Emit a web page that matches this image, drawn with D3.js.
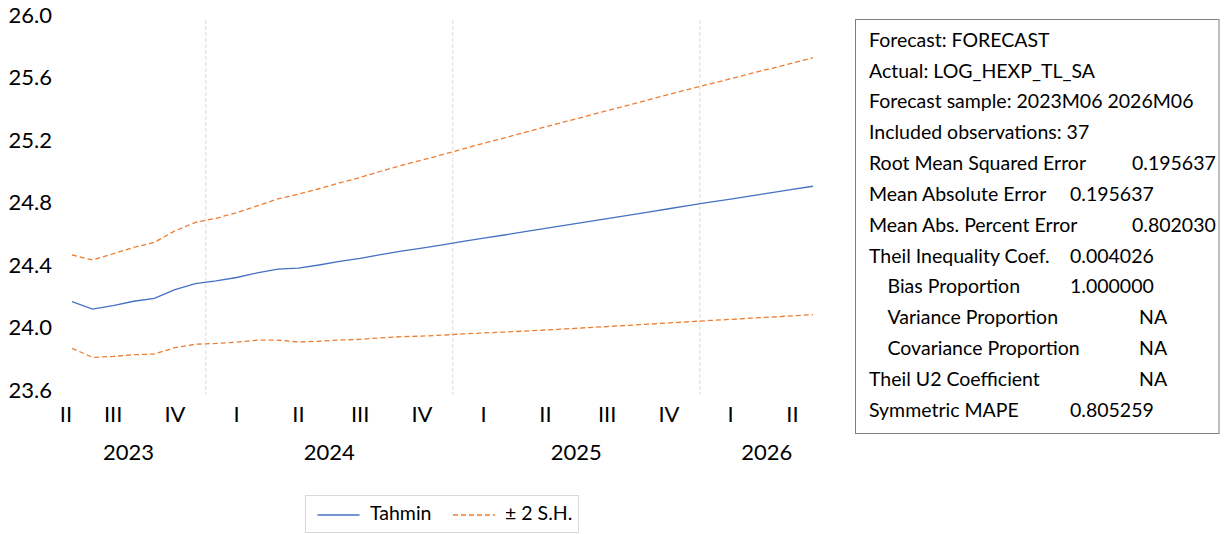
<!DOCTYPE html>
<html>
<head>
<meta charset="utf-8">
<script src="https://cdn.jsdelivr.net/npm/d3@7"></script>
<style>
  html, body { margin: 0; padding: 0; background: #fff; }
  svg { display: block; font-family: Lato, "Noto Sans", sans-serif; }
</style>
</head>
<body>
<svg id="chart" width="1228" height="534"></svg>
<script>
// Monthly forecast sample 2023M06 .. 2026M06 (37 observations)
const startYear = 2023, startMonth = 6, nObs = 37;
const periods = d3.range(nObs).map(i => {
  const m = startMonth - 1 + i;
  return `${startYear + Math.floor(m / 12)}M${String(m % 12 + 1).padStart(2, "0")}`;
});

// Point forecast (log level)
const forecast = [
  24.197, 24.150, 24.172, 24.200, 24.218, 24.275, 24.313, 24.330, 24.352, 24.382,
  24.405, 24.412, 24.432, 24.455, 24.474, 24.499, 24.521, 24.540, 24.561, 24.583,
  24.604, 24.624, 24.645, 24.666, 24.687, 24.708, 24.729, 24.750, 24.771, 24.792,
  24.813, 24.834, 24.854, 24.875, 24.895, 24.916, 24.936
];
// Upper band: forecast + 2 S.E.
const upperBand = [
  24.496, 24.464, 24.504, 24.545, 24.577, 24.650, 24.705, 24.731, 24.767, 24.810,
  24.855, 24.885, 24.920, 24.958, 24.992, 25.032, 25.069, 25.103, 25.139, 25.175,
  25.211, 25.245, 25.281, 25.316, 25.351, 25.385, 25.420, 25.454, 25.489, 25.523,
  25.557, 25.591, 25.624, 25.658, 25.691, 25.725, 25.758
];
// Lower band: forecast - 2 S.E.
const lowerBand = [
  23.899, 23.841, 23.847, 23.858, 23.862, 23.903, 23.925, 23.930, 23.938, 23.951,
  23.951, 23.939, 23.944, 23.952, 23.956, 23.966, 23.973, 23.977, 23.983, 23.991,
  23.997, 24.003, 24.009, 24.016, 24.023, 24.031, 24.038, 24.046, 24.053, 24.061,
  24.069, 24.077, 24.084, 24.092, 24.099, 24.107, 24.114
];

// Axis tick labels
const yTicks = [23.6, 24.0, 24.4, 24.8, 25.2, 25.6, 26.0];
const quarterLabels = ["II", "III", "IV", "I", "II", "III", "IV", "I", "II", "III", "IV", "I", "II"];
const quarterMidMonths = [-1, 2, 5, 8, 11, 14, 17, 20, 23, 26, 29, 32, 35]; // offset from 2023M06
const yearLabels = ["2023", "2024", "2025", "2026"];
const yearStarts = [-1, 6.5, 18.5, 30.5];
const yearEnds = [6.5, 18.5, 30.5, 37];

// Evaluation statistics
const statLabels = [
  "Forecast: FORECAST",
  "Actual: LOG_HEXP_TL_SA",
  "Forecast sample: 2023M06 2026M06",
  "Included observations: 37",
  "Root Mean Squared Error",
  "Mean Absolute Error",
  "Mean Abs. Percent Error",
  "Theil Inequality Coef.",
  "Bias Proportion",
  "Variance Proportion",
  "Covariance Proportion",
  "Theil U2 Coefficient",
  "Symmetric MAPE"
];
const statValues = ["", "", "", "", "0.195637", "0.195637", "0.802030", "0.004026",
                    "1.000000", "NA", "NA", "NA", "0.805259"];

const legendLabels = ["Tahmin", "\u00b1 2 S.H."];

// ---------------------------------------------------------------------------
const svg = d3.select("#chart");
const blue = "#4472C4", orange = "#ED7D31";

const x = d3.scaleLinear().domain([0, nObs - 1]).range([72, 813]);
const y = d3.scaleLinear().domain([23.6, 26.0]).range([395, 20]);

// Year separators
svg.append("g")
  .selectAll("line")
  .data(yearStarts.slice(1))
  .join("line")
  .attr("x1", d => x(d)).attr("x2", d => x(d))
  .attr("y1", y(26.0)).attr("y2", y(23.6))
  .attr("stroke", "#dcdcdc")
  .attr("stroke-width", 1)
  .attr("stroke-dasharray", "4,2");

// Y axis (labels only)
const yAxis = svg.append("g")
  .attr("transform", "translate(52,0)")
  .call(d3.axisLeft(y).tickValues(yTicks).tickFormat(d3.format(".1f")).tickSize(0).tickPadding(0));
yAxis.select(".domain").remove();
yAxis.selectAll("text")
  .attr("dy", "0.1em")
  .attr("font-family", "Lato")
  .attr("font-size", 22)
  .attr("fill", "#000");

// Quarter labels
svg.append("g")
  .selectAll("text")
  .data(quarterLabels)
  .join("text")
  .attr("x", (d, i) => Math.max(x(quarterMidMonths[i]), x(-1) + 14.5))
  .attr("y", 421.5)
  .attr("text-anchor", "middle")
  .attr("font-size", 22)
  .attr("fill", "#000")
  .text(d => d);

// Year labels centred on each year's span
svg.append("g")
  .selectAll("text")
  .data(yearLabels)
  .join("text")
  .attr("x", (d, i) => (x(yearStarts[i]) + x(yearEnds[i])) / 2)
  .attr("y", 460)
  .attr("text-anchor", "middle")
  .attr("font-size", 22)
  .attr("fill", "#000")
  .text(d => d);

// Series
const line = d3.line().x((d, i) => x(i)).y(d => y(d));
svg.append("path").datum(upperBand).attr("d", line)
  .attr("fill", "none").attr("stroke", orange).attr("stroke-width", 1.3)
  .attr("stroke-dasharray", "5,3");
svg.append("path").datum(lowerBand).attr("d", line)
  .attr("fill", "none").attr("stroke", orange).attr("stroke-width", 1.3)
  .attr("stroke-dasharray", "5,3");
svg.append("path").datum(forecast).attr("d", line)
  .attr("fill", "none").attr("stroke", blue).attr("stroke-width", 1.3);

// Legend
const legend = svg.append("g");
legend.append("rect")
  .attr("x", 305.5).attr("y", 495.5).attr("width", 273).attr("height", 37)
  .attr("fill", "#fff").attr("stroke", "#d9d9d9");
const legendItems = [
  { label: legendLabels[0], color: blue, dash: null, x0: 317.5, tx: 370 },
  { label: legendLabels[1], color: orange, dash: "5,3", x0: 453, tx: 505 }
];
legendItems.forEach(it => {
  legend.append("line")
    .attr("x1", it.x0).attr("x2", it.x0 + 42)
    .attr("y1", 515).attr("y2", 515)
    .attr("stroke", it.color).attr("stroke-width", 1.3)
    .attr("stroke-dasharray", it.dash);
  legend.append("text")
    .attr("x", it.tx).attr("y", 519.5)
    .attr("font-size", 19.5).attr("fill", "#000")
    .text(it.label);
});

// Statistics box
const statBox = svg.append("g");
statBox.append("rect")
  .attr("x", 855.5).attr("y", 19.5).attr("width", 363.5).attr("height", 414)
  .attr("fill", "#fff").attr("stroke", "#7f7f7f").attr("stroke-width", 1);
const indentRows = new Set([8, 9, 10]);
const valueColumn = [0, 0, 0, 0, 1132, 1070, 1132, 1070, 1070, 1139, 1139, 1139, 1070];
statLabels.forEach((lab, i) => {
  const by = 46.7 + i * 30.83;
  statBox.append("text")
    .attr("x", indentRows.has(i) ? 887.5 : 869)
    .attr("y", by)
    .attr("font-size", 19.5).attr("fill", "#000")
    .text(lab);
  if (statValues[i]) {
    statBox.append("text")
      .attr("x", valueColumn[i])
      .attr("y", by)
      .attr("font-size", 19.5).attr("fill", "#000")
      .text(statValues[i]);
  }
});
</script>
</body>
</html>
